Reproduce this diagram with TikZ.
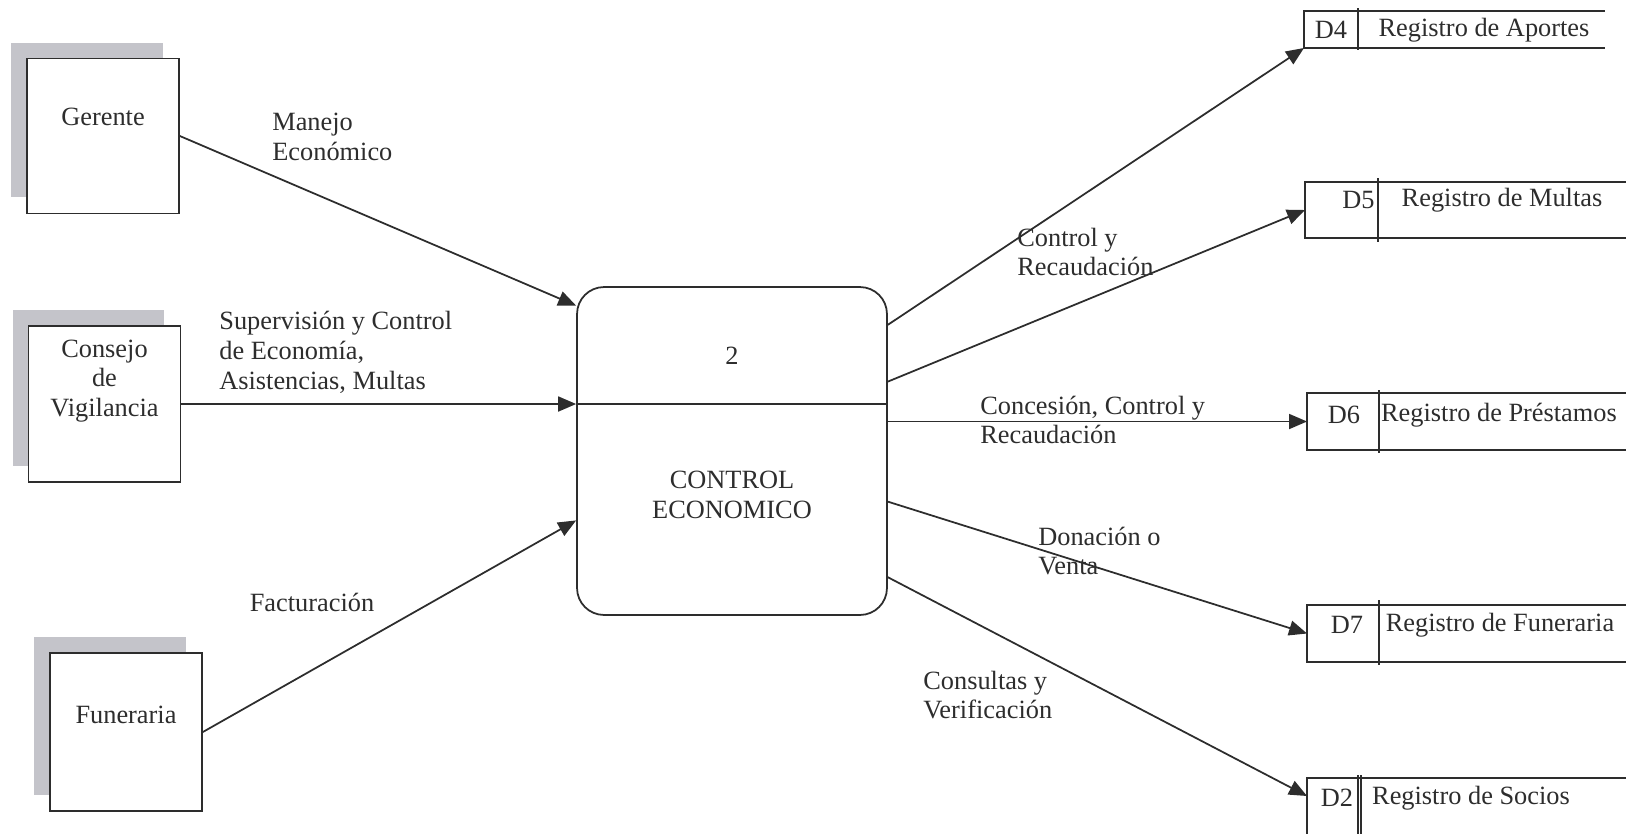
\documentclass[tikz,border=0pt]{standalone}
\usepackage{fontspec}
\setmainfont{Liberation Serif}
\usetikzlibrary{arrows.meta,shadows}

\definecolor{sombra}{RGB}{196,196,202}
\definecolor{tinta}{RGB}{45,45,45}

\tikzset{
	linea/.style={draw=tinta, line width=1pt},
	entidad/.style={linea, fill=white, minimum width=3.04cm, minimum height=3.1cm,
		drop shadow={shadow xshift=-0.32cm, shadow yshift=0.32cm, fill=sombra, opacity=1}},
	proceso/.style={linea, rounded corners=0.54cm, minimum width=6.2cm, minimum height=6.56cm},
	texto/.style={text=tinta, font=\fontsize{15}{17}\selectfont, align=center, inner sep=0pt},
	etiqueta/.style={texto, align=left, anchor=west},
	almacen/.style={inner sep=0pt, outer sep=0pt},
	flujo/.style={linea, -{Triangle[length=0.36cm, width=0.3cm]}}
}

\begin{document}
\begin{tikzpicture}[x=0.02cm, y=-0.02cm]
			%%%%% START %%%%%
			\useasboundingbox (0,0) rectangle (1626,833);
			
			% entidades externas
			\node[entidad] (ger) at (103,136) {};
			\node[texto] (gertxt) at ([yshift=0.38cm]ger.center) {Gerente};
			\node[entidad, minimum height=3.12cm] (cons) at (104.5,404) {};
			\node[texto] (constxt) at ([yshift=0.46cm]cons.center) {Consejo\\de\\Vigilancia};
			\node[entidad, minimum height=3.16cm] (fun) at (126,732) {};
			\node[texto] (funtxt) at ([yshift=0.34cm]fun.center) {Funeraria};
			
			% proceso
			\node[proceso] (proc) at (732,451) {};
			\draw[linea] (proc.west |- 0,404) -- (proc.east |- 0,404);
			\node[texto] (procnum) at (732,356) {2};
			\node[texto] (proctxt) at (732,495) {CONTROL\\ECONOMICO};
			
			% almacenes
			\node[almacen, minimum width=6.02cm, minimum height=0.74cm] (d4) at (1454.5,29.5) {};
			\draw[linea] (d4.north east) -- (d4.north west) -- (d4.south west) -- (d4.south east);
			\draw[linea] (1358,8) -- (1358,50);
			\node[texto] (d4id) at (1331,30) {D4};
			\node[texto] (d4txt) at (1484,30) {Registro de Aportes};
			
			\node[almacen, minimum width=6.7cm, minimum height=1.12cm] (d5) at (1472.5,210) {};
			\draw[linea] (d5.north east) -- (d5.north west) -- (d5.south west) -- (d5.south east);
			\draw[linea] (1378,178) -- (1378,242);
			\node[texto, anchor=east] (d5id) at (1375,200) {D5};
			\node[texto] (d5txt) at (1502,200) {Registro de Multas};
			
			\node[almacen, minimum width=6.66cm, minimum height=1.14cm] (d6) at (1473.5,421.5) {};
			\draw[linea] (d6.north east) -- (d6.north west) -- (d6.south west) -- (d6.south east);
			\draw[linea] (1379,390) -- (1379,453);
			\node[texto] (d6id) at (1344,415) {D6};
			\node[texto] (d6txt) at (1499,415) {Registro de Préstamos};
			
			\node[almacen, minimum width=6.66cm, minimum height=1.14cm] (d7) at (1473.5,633.5) {};
			\draw[linea] (d7.north east) -- (d7.north west) -- (d7.south west) -- (d7.south east);
			\draw[linea] (1379,600) -- (1379,665);
			\node[texto] (d7id) at (1347,625) {D7};
			\node[texto] (d7txt) at (1500,625) {Registro de Funeraria};
			
			\node[almacen, minimum width=6.66cm, minimum height=1.14cm] (d2) at (1473.5,806.5) {};
			\draw[linea] (d2.north east) -- (d2.north west) -- (d2.south west) -- (d2.south east);
			\draw[linea] (1358,775) -- (1358,840);
			\draw[linea] (1361,775) -- (1361,840);
			\node[texto] (d2id) at (1337,798) {D2};
			\node[texto] (d2txt) at (1471,798) {Registro de Socios};
			
			% flujos
			\draw[flujo] (ger.east) -- (proc.137);
			\draw[flujo] (cons.east) -- (cons.east -| proc.west);
			\draw[flujo] (fun.east) -- (proc.204);
			\draw[flujo] (proc.39) -- (d4.south west);
			\draw[flujo] (proc.24) -- (d5.west);
			\draw[flujo] (proc.east |- d6.west) -- (d6.west);
			\draw[flujo] (proc.342) -- (d7.west);
			\draw[flujo] (proc.321) -- ([yshift=-0.36cm]d2.north west);
			
			\node[etiqueta] (lman) at (272,137) {Manejo\\Económico};
			\node[etiqueta] (lsup) at (219,352) {Supervisión y Control\\de Economía,\\Asistencias, Multas};
			\node[texto] (lfac) at (312,602) {Facturación};
			\node[etiqueta] (lrec) at (1017,252) {Control y\\Recaudación};
			\node[etiqueta] (lcon) at (980,420) {Concesión, Control y\\Recaudación};
			\node[etiqueta] (ldon) at (1038,551) {Donación o\\Venta};
			\node[etiqueta] (lver) at (923,695) {Consultas y\\Verificación};
			
			%%%%% END %%%%%
\end{tikzpicture}
\end{document}
